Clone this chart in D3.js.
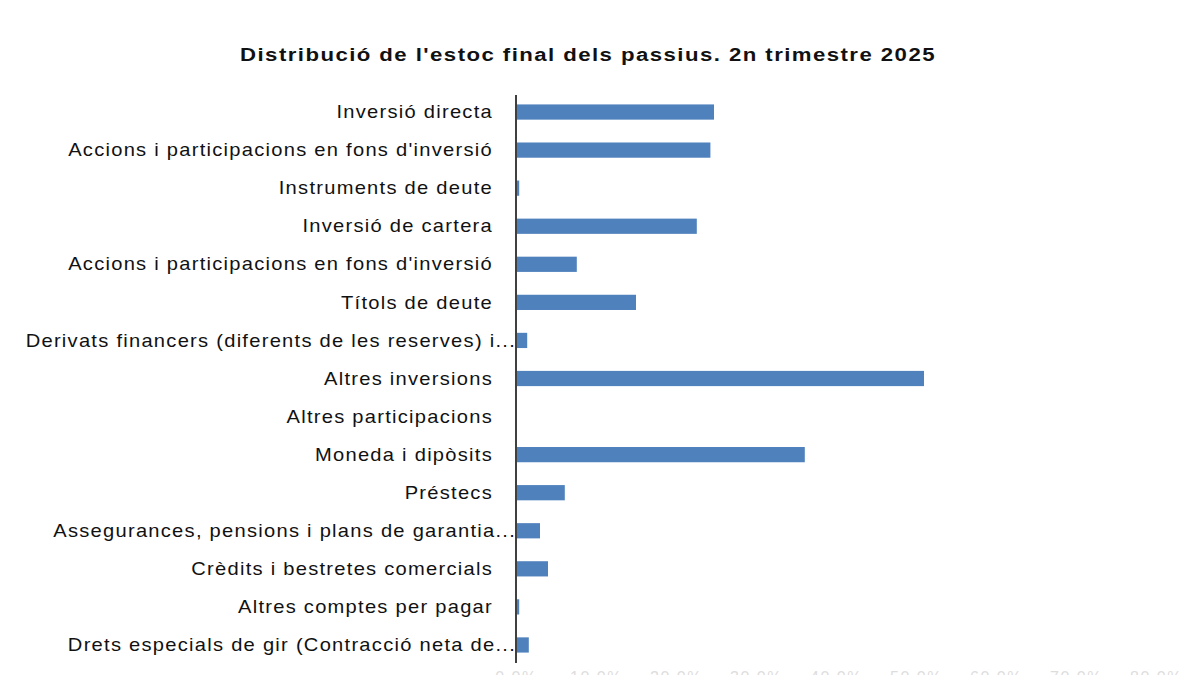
<!DOCTYPE html>
<html><head><meta charset="utf-8">
<script src="https://cdn.jsdelivr.net/npm/d3@7"></script>
<style>
html,body{margin:0;padding:0;background:#fff;}
svg{display:block;}
</style></head>
<body>
<svg id="chart" width="1200" height="675"></svg>
<script>
const title = "Distribució de l'estoc final dels passius. 2n trimestre 2025";
const categories = [
  "Inversió directa",
  "Accions i participacions en fons d'inversió",
  "Instruments de deute",
  "Inversió de cartera",
  "Accions i participacions en fons d'inversió ",
  "Títols de deute",
  "Derivats financers (diferents de les reserves) i...",
  "Altres inversions",
  "Altres participacions",
  "Moneda i dipòsits",
  "Préstecs",
  "Assegurances, pensions i plans de garantia...",
  "Crèdits i bestretes comercials",
  "Altres comptes per pagar",
  "Drets especials de gir (Contracció neta de..."
];
const values = [24.75, 24.3, 0.4, 22.6, 7.6, 15.0, 1.4, 51.0, 0, 36.1, 6.1, 3.0, 4.0, 0.4, 1.6];
const tickValues = [0, 10, 20, 30, 40, 50, 60, 70, 80];
const tickLabels = ["0,0%", "10,0%", "20,0%", "30,0%", "40,0%", "50,0%", "60,0%", "70,0%", "80,0%"];

const svg = d3.select("#chart");
const font = "'Liberation Sans', Arial, sans-serif";
const stretch = 1.15;

const x = d3.scaleLinear().domain([0, 80]).range([516, 1156]);
const y = d3.scaleBand().domain(d3.range(categories.length)).range([93, 664])
  .paddingInner(0.6).paddingOuter(0.3);

svg.append("text")
  .attr("transform", "translate(588,61) scale(1.2,1)")
  .attr("text-anchor", "middle")
  .attr("font-family", font).attr("font-weight", "bold")
  .attr("font-size", 18.5).attr("letter-spacing", 1.2)
  .attr("fill", "#111")
  .text(title);

// bars
svg.append("g").selectAll("rect").data(values).join("rect")
  .attr("x", x(0))
  .attr("y", (d, i) => y(i))
  .attr("width", d => x(d) - x(0))
  .attr("height", y.bandwidth())
  .attr("fill", "#4F81BD");

// category labels
svg.append("g").selectAll("text").data(categories).join("text")
  .attr("transform", (d, i) => `translate(${d.endsWith("...") ? 516 : 493},${y(i) + y.bandwidth() / 2}) scale(${stretch},1)`)
  .attr("dy", "0.35em")
  .attr("text-anchor", "end")
  .attr("font-family", font)
  .attr("font-size", 17.5)
  .attr("letter-spacing", 1.1)
  .attr("fill", "#111")
  .text(d => d.trim());

// axis line
svg.append("line")
  .attr("x1", x(0)).attr("x2", x(0))
  .attr("y1", 95).attr("y2", 663)
  .attr("stroke", "#404040").attr("stroke-width", 2);

// bottom tick labels (cut off by the frame, as in the reference)
const xAxis = d3.axisBottom(x).tickValues(tickValues).tickSize(0)
  .tickFormat((d, i) => tickLabels[i]);
const gx = svg.append("g").attr("transform", "translate(0,671)").call(xAxis);
gx.select(".domain").remove();
gx.selectAll("text")
  .attr("font-family", font).attr("font-size", 16)
  .attr("letter-spacing", 1.5)
  .attr("fill", "#dddddd")
  .attr("dy", "0.71em").attr("y", 1);
</script>
</body></html>
